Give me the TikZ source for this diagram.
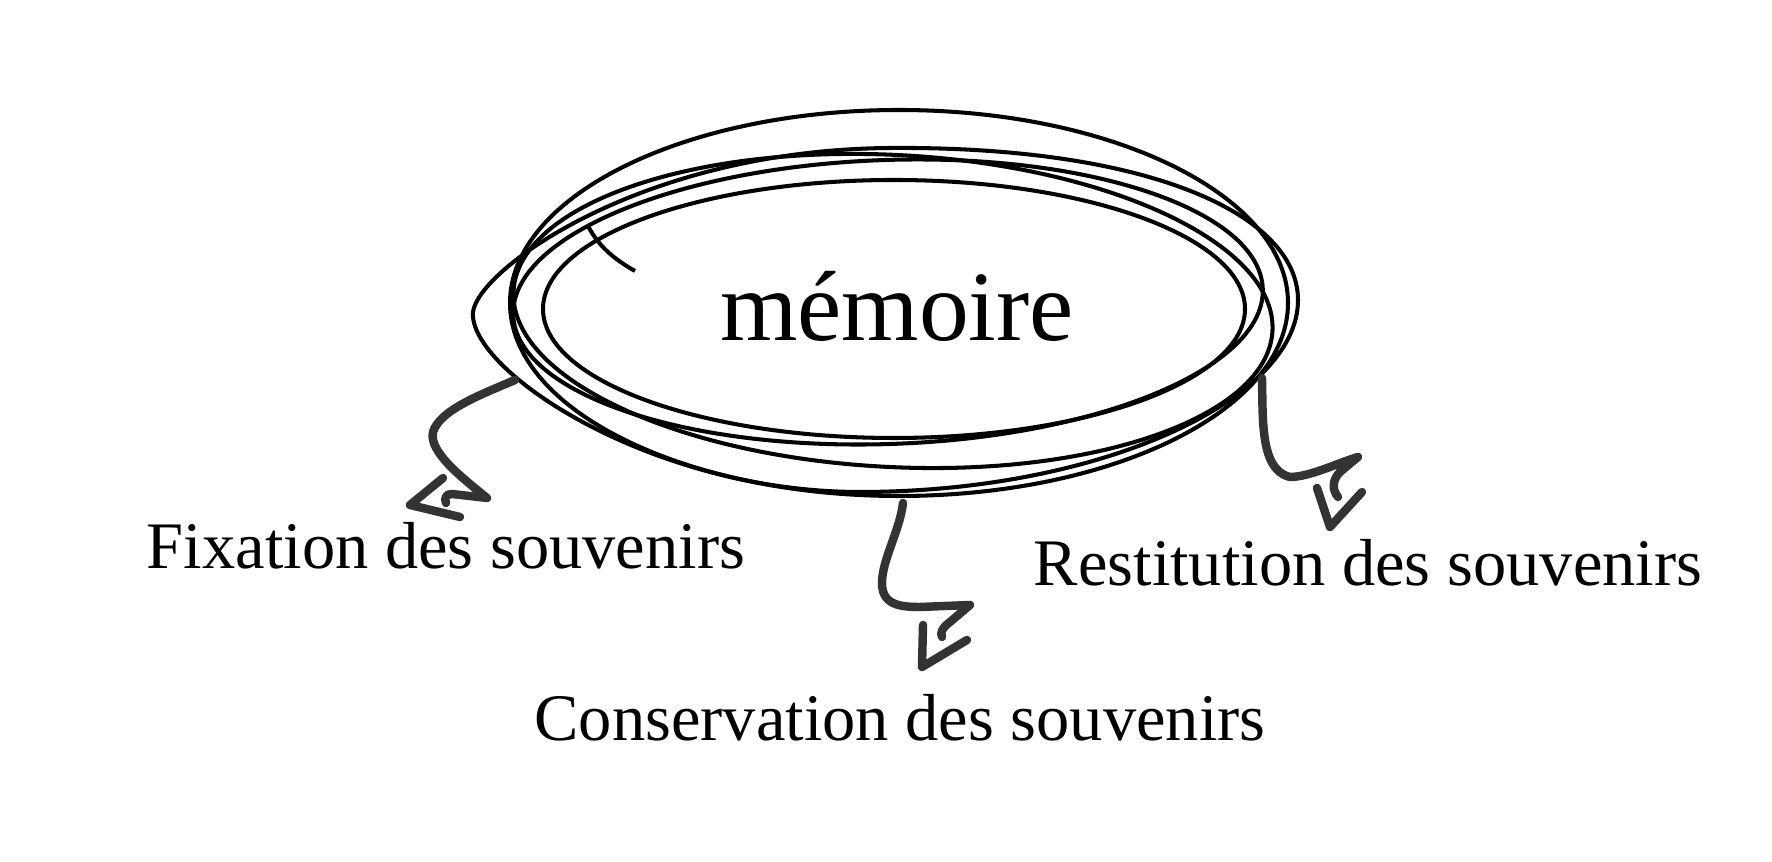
\documentclass[tikz,border=0pt]{standalone}
\usepackage{fontspec}
\setmainfont{Liberation Serif}
\begin{document}
\begin{tikzpicture}[x=0.01cm,y=-0.01cm,
  loop/.style={line width=1.15pt,black},
  arr/.style={line width=2.4pt,color=arrgray,line cap=round,line join=round},
  lbl/.style={anchor=base,inner sep=0pt,font=\fontsize{18.9}{22}\selectfont},
  titl/.style={anchor=base,inner sep=0pt,font=\fontsize{28.3}{32}\selectfont}]
\definecolor{arrgray}{HTML}{333333}
\useasboundingbox[fill=white] (0,0) rectangle (1772,862);
% scribbled ellipse
\draw[loop] (899,303) ellipse [x radius=389, y radius=193];
\draw[loop] (473,312) .. controls (478,270) and (640,150) .. (890,148)
  .. controls (1150,146) and (1298,215) .. (1298,300)
  .. controls (1298,400) and (1100,492) .. (860,492)
  .. controls (650,492) and (468,370) .. (473,312);
\draw[loop,rotate around={-3:(893,311)}] (893,311) ellipse [x radius=380, y radius=156];
\draw[loop,rotate around={2:(888,302)}] (888,302) ellipse [x radius=375, y radius=142];
\draw[loop] (894,309) ellipse [x radius=351, y radius=129];
\draw[loop] (588,226) .. controls (598,245) and (612,258) .. (635,271);
% texts
\node[titl] (mem) at (897,341) {mémoire};
\node[lbl] (fix) at (446,569) {Fixation des souvenirs};
\node[lbl] (res) at (1368,586) {Restitution des souvenirs};
\node[lbl] (con) at (900,741) {Conservation des souvenirs};
% left arrow
\coordinate (a1) at (515,380);
\coordinate (a1e) at (487,498);
\draw[arr] (a1) .. controls (480,395) and (440,410) .. (433,432)
  .. controls (428,452) and (465,480) .. (a1e)
  -- (452,494) .. controls (446,494) and (444,498) .. (446,503);
\draw[arr] (443,478) -- (410,505) -- (460,517);
% middle arrow
\coordinate (a2) at (903,503);
\coordinate (a2e) at (970,605);
\draw[arr] (a2) .. controls (900,530) and (882,560) .. (882,583)
  .. controls (882,605) and (900,607) .. (920,607) -- (a2e)
  -- (950,622) .. controls (942,628) and (940,633) .. (942,637);
\draw[arr] (923,625) -- (922,667) -- (967,640);
% right arrow
\coordinate (a3) at (1262,378);
\coordinate (a3e) at (1358,457);
\draw[arr] (a3) .. controls (1263,420) and (1260,470) .. (1290,477)
  .. controls (1310,477) and (1340,462) .. (a3e)
  -- (1340,472) .. controls (1332,480) and (1332,490) .. (1338,497);
\draw[arr] (1317,488) -- (1330,527) -- (1362,492);
\end{tikzpicture}
\end{document}
